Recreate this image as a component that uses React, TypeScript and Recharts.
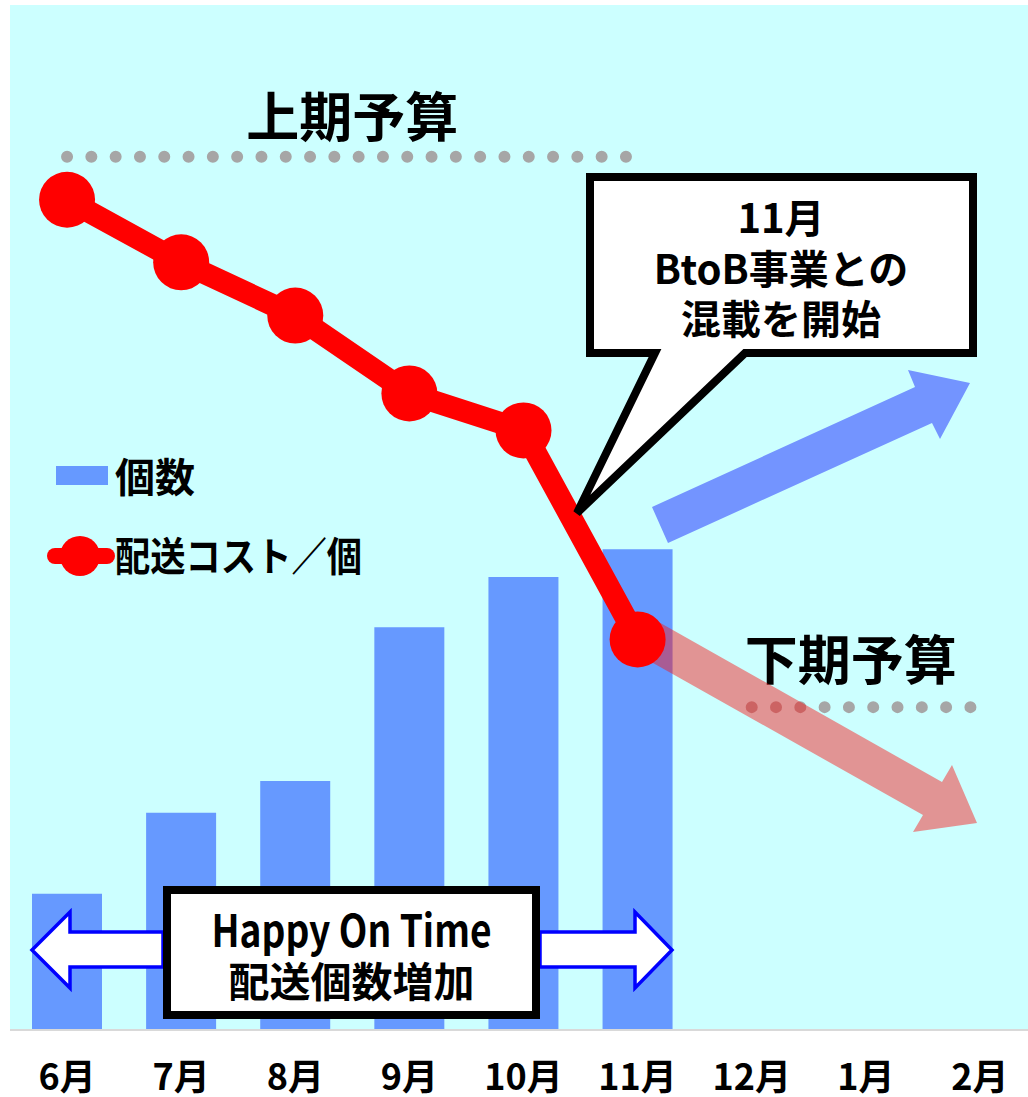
import React from 'react';
import { ComposedChart, Bar, Line, XAxis, YAxis, CartesianGrid, ReferenceLine } from 'recharts';

// categories and values (arbitrary 0-100 units)
const months = ['6月', '7月', '8月', '9月', '10月', '11月', '12月', '1月', '2月'];
const counts = [13.3, 21.2, 24.3, 39.3, 44.2, 46.9, null, null, null];
const costPerUnit = [81.0, 74.9, 69.7, 62.1, 58.5, 38.1, null, null, null];
const firstHalfBudget = 85.2;
const secondHalfBudget = 31.5;
const seriesNames = { count: '個数', cost: '配送コスト／個' };

const chartData = months.map((month, i) => ({
  month,
  count: counts[i],
  cost: costPerUnit[i],
}));

const FONT = '"Noto Sans CJK JP", "Noto Sans", sans-serif';
const W = 1040;
const H = 1097;
const margin = { top: 5, right: 3, bottom: 0, left: 10 };

const layer: React.CSSProperties = { position: 'absolute', left: 0, top: 0 };
const labelStyle = { fontSize: 53, fontWeight: 700, fill: '#000', fontFamily: FONT };

// legend drawn by hand, same look as the original
const LegendBlock = () => (
  <g transform="translate(0,440)">
    <rect x={56} y={26} width={52} height={19} fill="#6699ff" />
    <text x={115} y={52} fontSize={40} fill="#000">{seriesNames.count}</text>
    <line x1={55} x2={107} y1={116} y2={116} stroke="#ff0000" strokeWidth={16} strokeLinecap="round" />
    <circle cx={80} cy={116} r={20} fill="#ff0000" />
    <text x={115} y={131} fontSize={40} fill="#000" textLength={247} lengthAdjust="spacingAndGlyphs">
      {seriesNames.cost}
    </text>
  </g>
);

const App: React.FC = () => {
  return (
    <div style={{ ...layer, width: 1028, height: H, overflow: 'hidden', background: '#fff' }}>
      {/* bars, background, second-half budget */}
      <div style={layer}>
        <ComposedChart width={W} height={H} data={chartData} margin={margin}>
          <CartesianGrid horizontal={false} vertical={false} fill="#ccffff" stroke="none" />
          <XAxis
            dataKey="month"
            interval={0}
            height={67}
            tickLine={false}
            tickSize={0}
            tickMargin={34}
            axisLine={{ stroke: '#d9d9d9', strokeWidth: 2 }}
            tick={{ fontSize: 36, fontWeight: 700, fill: '#000', fontFamily: FONT }}
          />
          <YAxis yAxisId="count" domain={[0, 100]} hide />
          <YAxis yAxisId="cost" domain={[0, 100]} hide />
          <Bar yAxisId="count" dataKey="count" name={seriesNames.count} fill="#6699ff" barSize={70} isAnimationActive={false} />
          {/* invisible copy so the cost axis has a series in this layer */}
          <Line yAxisId="cost" dataKey="cost" stroke="none" dot={false} activeDot={false} legendType="none" isAnimationActive={false} />
          <ReferenceLine
            yAxisId="cost"
            segment={[{ x: '12月', y: secondHalfBudget }, { x: '2月', y: secondHalfBudget }]}
            stroke="#a6a6a6"
            strokeWidth={12}
            strokeDasharray="0 24.3"
            strokeLinecap="round"
            label={{ value: '下期予算', position: 'top', offset: 27, dx: -15, ...labelStyle }}
          />
        </ComposedChart>
      </div>

      {/* trend arrows */}
      <svg width={W} height={H} style={layer}>
        <polygon
          points="648,616 942,782 952,765 977,823 913,832 923,815 630,650"
          fill="#fb1111"
          fillOpacity={0.45}
        />
        <polygon points="652,507 915,387 908,370 970,383 940,439 932,423 668,543" fill="#7394ff" />
      </svg>

      {/* first-half budget and cost line */}
      <div style={layer}>
        <ComposedChart width={W} height={H} data={chartData} margin={margin}>
          <XAxis dataKey="month" scale="band" interval={0} height={67} tick={false} tickLine={false} axisLine={false} />
          <YAxis yAxisId="cost" domain={[0, 100]} hide />
          <ReferenceLine
            yAxisId="cost"
            segment={[{ x: '6月', y: firstHalfBudget }, { x: '11月', y: firstHalfBudget }]}
            stroke="#a6a6a6"
            strokeWidth={12}
            strokeDasharray="0 24.3"
            strokeLinecap="round"
            label={{ value: '上期予算', position: 'top', offset: 20, ...labelStyle }}
          />
          <Line
            yAxisId="cost"
            type="linear"
            dataKey="cost"
            name={seriesNames.cost}
            stroke="#ff0000"
            strokeWidth={22}
            strokeLinejoin="round"
            dot={{ r: 28, fill: '#ff0000', stroke: 'none', strokeWidth: 0 }}
            activeDot={false}
            isAnimationActive={false}
          />
        </ComposedChart>
      </div>

      {/* callouts and legend */}
      <svg width={W} height={H} style={{ ...layer, fontFamily: FONT, fontWeight: 700 }}>
        <path
          d="M590,177 H973 V353 H745 L577,513 L655,353 H590 Z"
          fill="#fff"
          stroke="#000"
          strokeWidth={8}
        />
        <text x={781} y={233} fontSize={40} textAnchor="middle" fill="#000">11月</text>
        <text x={781} y={284} fontSize={40} textAnchor="middle" fill="#000">BtoB事業との</text>
        <text x={781} y={334} fontSize={40} textAnchor="middle" fill="#000">混載を開始</text>

        <LegendBlock />

        <polygon points="163,932 70,932 70,912 32,950 70,988 70,967 163,967" fill="#fff" stroke="#0000ff" strokeWidth={3.5} />
        <polygon points="540,932 635,932 635,912 672,950 635,988 635,967 540,967" fill="#fff" stroke="#0000ff" strokeWidth={3.5} />
        <rect x={167} y={890} width={369} height={125} fill="#fff" stroke="#000" strokeWidth={8} />
        <text x={351.5} y={947} fontSize={44} textAnchor="middle" fill="#000" textLength={280} lengthAdjust="spacingAndGlyphs">
          Happy On Time
        </text>
        <text x={351.5} y={997} fontSize={41} textAnchor="middle" fill="#000">配送個数増加</text>
      </svg>
    </div>
  );
};

export default App;
